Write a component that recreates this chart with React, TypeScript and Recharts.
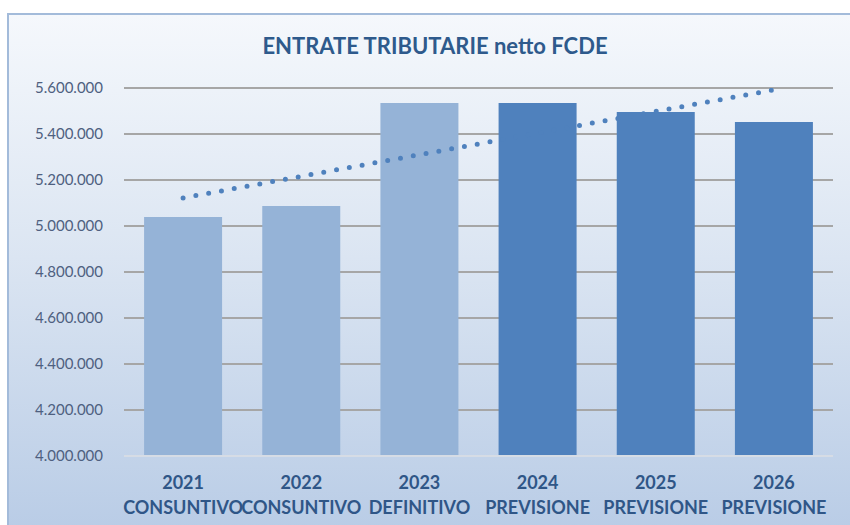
import { ComposedChart, Bar, Line, Cell, XAxis, YAxis, CartesianGrid } from 'recharts';

const YEARS = ['2021', '2022', '2023', '2024', '2025', '2026'];
const PHASES = ['CONSUNTIVO', 'CONSUNTIVO', 'DEFINITIVO', 'PREVISIONE', 'PREVISIONE', 'PREVISIONE'];
const ENTRATE = [5039000, 5087000, 5535000, 5535000, 5496000, 5452000];
const TREND = [5122000, 5216000, 5310000, 5404000, 5498000, 5592000];
const Y_TICKS = [4000000, 4200000, 4400000, 4600000, 4800000, 5000000, 5200000, 5400000, 5600000];

const LIGHT = '#95b3d7';
const DARK = '#4f81bd';
const TITLE_COLOR = '#2e5a8c';

const data = YEARS.map((year, i) => ({
  year,
  phase: PHASES[i],
  value: ENTRATE[i],
  trend: TREND[i],
}));

const formatIt = (v: number) => String(v).replace(/\B(?=(\d{3})+(?!\d))/g, '.');

function XTick({ x, y, payload, index }: any) {
  return (
    <g transform={`translate(${x},${y})`}>
      <text
        x={0}
        y={25}
        textAnchor="middle"
        fill="#2f5687"
        fontFamily="Lato"
        fontWeight={700}
        fontSize={18}
      >
        {payload.value}
      </text>
      <text
        x={0}
        y={50}
        textAnchor="middle"
        fill="#2f5687"
        fontFamily="Lato"
        fontWeight={700}
        fontSize={18}
      >
        {PHASES[index]}
      </text>
    </g>
  );
}

export default function App() {
  return (
    <div
      style={{
        position: 'fixed',
        left: 0,
        top: 0,
        width: 850,
        height: 525,
        overflow: 'hidden',
        background: '#ffffff',
      }}
    >
      <div
        style={{
          position: 'absolute',
          left: 7,
          top: 13,
          width: 870,
          height: 540,
          border: '2px solid #a3bbda',
          background: 'linear-gradient(to bottom, #f5f8fc 0%, #dbe5f2 45%, #b6cae5 100%)',
        }}
      />
      <div
        style={{
          position: 'absolute',
          left: 0,
          top: 32,
          width: 870,
          textAlign: 'center',
          color: TITLE_COLOR,
          fontFamily: 'Lato',
          fontWeight: 700,
          fontSize: 22,
          lineHeight: '28px',
        }}
      >
        ENTRATE TRIBUTARIE netto FCDE
      </div>
      <div style={{ position: 'absolute', left: 0, top: 0 }}>
        <ComposedChart
          width={850}
          height={525}
          data={data}
          margin={{ top: 88, right: 17, bottom: 0, left: 0 }}
          barCategoryGap="17%"
        >
          <CartesianGrid vertical={false} stroke="#a6a6a6" strokeWidth={2} />
          <XAxis
            dataKey="year"
            tick={<XTick />}
            tickLine={false}
            axisLine={{ stroke: '#d6dce5', strokeWidth: 2 }}
            interval={0}
            height={69}
          />
          <YAxis
            domain={[4000000, 5600000]}
            ticks={Y_TICKS}
            tickFormatter={formatIt}
            width={124}
            tickLine={false}
            axisLine={false}
            tickSize={0}
            tickMargin={21}
            tick={{ fill: '#4e6080', fontFamily: 'Lato', fontSize: 15 }}
            allowDataOverflow
          />
          <Bar dataKey="value" isAnimationActive={false}>
            {data.map((_, i) => (
              <Cell key={i} fill={i < 3 ? LIGHT : DARK} />
            ))}
          </Bar>
          <Line
            dataKey="trend"
            type="linear"
            stroke={DARK}
            strokeWidth={5}
            strokeDasharray="0 13"
            strokeLinecap="round"
            dot={false}
            activeDot={false}
            isAnimationActive={false}
          />
        </ComposedChart>
      </div>
    </div>
  );
}
